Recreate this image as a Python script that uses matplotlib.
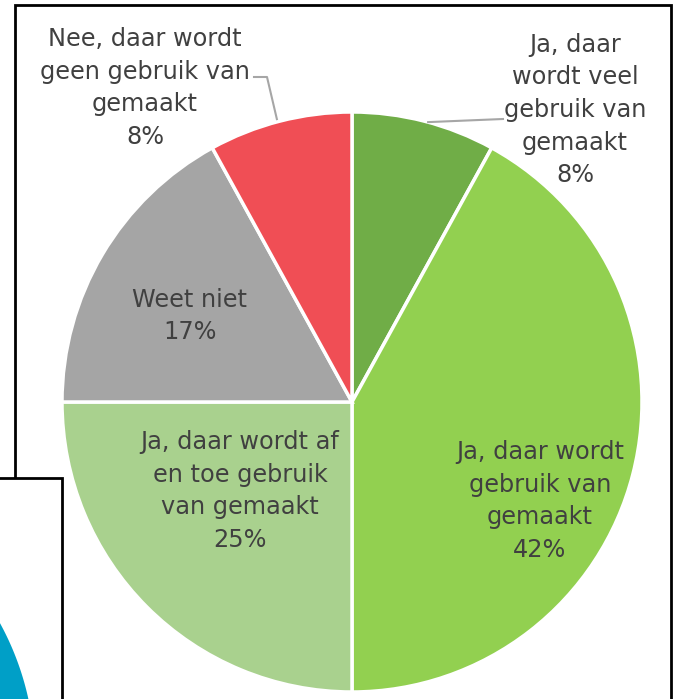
import numpy as np
import matplotlib.pyplot as plt
from matplotlib.patches import Rectangle, Polygon

# Answer shares (percent), clockwise from 12 o'clock
labels = ['Ja, daar\nwordt veel\ngebruik van\ngemaakt',
          'Ja, daar wordt\ngebruik van\ngemaakt',
          'Ja, daar wordt af\nen toe gebruik\nvan gemaakt',
          'Weet niet',
          'Nee, daar wordt\ngeen gebruik van\ngemaakt']
shares = [8, 42, 25, 17, 8]
colors = ['#70AD47', '#92D050', '#A9D18E', '#A5A5A5', '#F04E55']

W, H = 679, 699
fig = plt.figure(figsize=(W / 100, H / 100), dpi=100)
ax = fig.add_axes([0, 0, 1, 1])

cx, cy, r = 352, H - 402, 290
wedges, _ = ax.pie(shares, colors=colors, startangle=90, counterclock=False,
                   center=(cx, cy), radius=r,
                   wedgeprops=dict(edgecolor='white', linewidth=2.5))
ax.set_xlim(0, W)
ax.set_ylim(0, H)
ax.set_aspect('equal')
ax.axis('off')

txt = dict(ha='center', va='center', color='#404040', fontsize=17.3,
           family='DejaVu Sans', linespacing=1.45)

# label anchor positions (pixel coords, y from top)
label_pos = [(575, 110), (540, 501), (240, 491), (190, 316), (145, 88)]
for lab, s, (x, y) in zip(labels, shares, label_pos):
    ax.text(x, H - y, f'{lab}\n{s}%', **txt)

# leader lines for the two small outside labels
def edge_point(i):
    w = wedges[i]
    mid = np.deg2rad((w.theta1 + w.theta2) / 2)
    return cx + r * np.cos(mid), cy + r * np.sin(mid)

ex, ey = edge_point(0)
ax.plot([ex + 4, 503], [ey - 1, H - 119], color='#A6A6A6', lw=1.5)
ex, ey = edge_point(4)
ax.plot([254, 267, ex - 3], [H - 77, H - 77, ey + 2], color='#A6A6A6', lw=1.5)

# frame around chart
ax.add_patch(Rectangle((15, -10), 656, H - 5 + 10, fill=False, ec='black', lw=2, zorder=5))
# overlapping window in the corner of the screenshot
ax.add_patch(Rectangle((-5, -10), 67, H - 478 + 10, fc='white', ec='black', lw=2, zorder=6))
# blue disc peeking in from the bottom-left corner
bx, by, br = -250, H - 760, 285
t = np.linspace(0, np.pi / 2, 120)
pts = np.column_stack([np.r_[bx + br * np.cos(t), bx], np.r_[by + br * np.sin(t), by]])
ax.add_patch(Polygon(pts, closed=True, fc='#009FC7', ec='none', zorder=7))

fig.savefig('out.png', dpi=100)
